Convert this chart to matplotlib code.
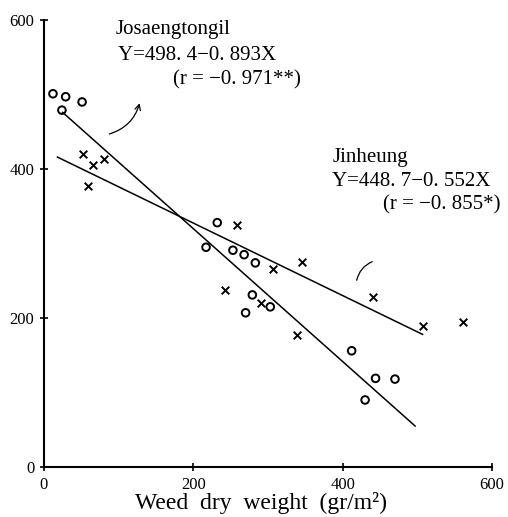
import matplotlib.pyplot as plt

# Josaengtongil (circles)
jos_x = [12, 29, 51, 24, 232, 217, 253, 268, 283, 279, 303, 270, 412, 444, 470, 430]
jos_y = [501, 497, 490, 479, 328, 295, 291, 285, 274, 231, 215, 207, 156, 119, 118, 90]

# Jinheung (crosses)
jin_x = [52, 65, 80, 59, 259, 307, 346, 243, 290, 339, 441, 508, 561]
jin_y = [420, 405, 413, 377, 325, 266, 275, 238, 220, 177, 228, 189, 195]

# fitted lines as drawn
jos_line_x = [25, 497]
jos_line_y = [476, 55]
jin_line_x = [18, 507]
jin_line_y = [416, 178]

x_ticks = [0, 200, 400, 600]
y_ticks = [0, 200, 400, 600]

serif = "Liberation Serif"

fig = plt.figure(figsize=(5.08, 5.17), dpi=100)
ax = fig.add_axes([0.0866, 0.0967, 0.882, 0.8646])

ax.plot(jos_line_x, jos_line_y, color="black", lw=1.1)
ax.plot(jin_line_x, jin_line_y, color="black", lw=1.1)
ax.scatter(jos_x, jos_y, marker="o", s=30, facecolors="none",
           edgecolors="black", linewidths=1.4, clip_on=False)
ax.scatter(jin_x, jin_y, marker="x", s=30, color="black",
           linewidths=1.4, clip_on=False)

ax.set_xlim(0, 600)
ax.set_ylim(0, 600)
ax.set_xticks(x_ticks)
ax.set_yticks(y_ticks)
ax.spines["top"].set_visible(False)
ax.spines["right"].set_visible(False)
ax.spines["left"].set_linewidth(1.5)
ax.spines["bottom"].set_linewidth(1.5)
ax.tick_params(direction="inout", length=6, width=1.2, labelsize=12, pad=4)
for lab in ax.get_xticklabels() + ax.get_yticklabels():
    lab.set_fontfamily(serif)

fig.text(0.514, 0.028, "Weed  dry  weight  (gr/m²)", fontsize=17,
         family=serif, ha="center", va="center")

ax.text(96, 587, "Josaengtongil", fontsize=15, family=serif, va="center")
ax.text(99, 553, "Y=498. 4−0. 893X", fontsize=15, family=serif, va="center")
ax.text(173, 519, "(r = −0. 971**)", fontsize=15, family=serif, va="center")
ax.text(386, 415, "Jinheung", fontsize=15, family=serif, va="center")
ax.text(386, 383, "Y=448. 7−0. 552X", fontsize=15, family=serif, va="center")
ax.text(454, 352, "(r = −0. 855*)", fontsize=15, family=serif, va="center")

ax.annotate("", xy=(129, 492), xytext=(84, 446),
            arrowprops=dict(arrowstyle="->", color="black", lw=0.9,
                            connectionstyle="arc3,rad=0.3"))
ax.annotate("", xy=(443, 277), xytext=(418, 247),
            arrowprops=dict(arrowstyle="-", color="black", lw=0.9,
                            connectionstyle="arc3,rad=-0.3"))

fig.savefig("out.png", dpi=100)
